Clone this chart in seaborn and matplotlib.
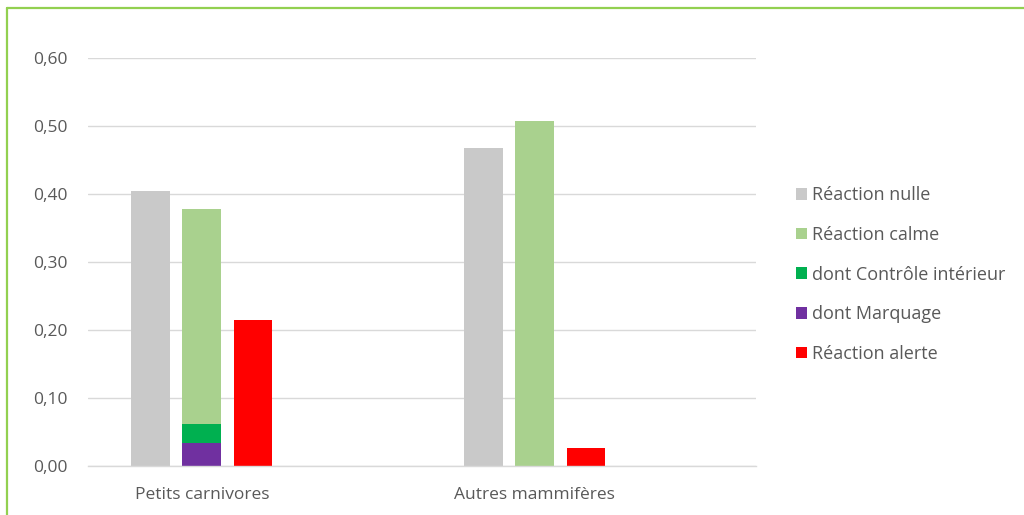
import matplotlib
matplotlib.use("Agg")
import matplotlib.pyplot as plt
from matplotlib.patches import Patch
from matplotlib.lines import Line2D
import seaborn as sns
import pandas as pd

categories = ["Petits carnivores", "Autres mammifères"]
reaction_nulle = [0.404, 0.467]
reaction_calme = [0.378, 0.507]
reaction_alerte = [0.215, 0.026]
dont_marquage = [0.034, 0.0]
dont_controle_interieur = [0.027, 0.0]
yticks = [0.0, 0.1, 0.2, 0.3, 0.4, 0.5, 0.6]
ytick_labels = ["0,00", "0,10", "0,20", "0,30", "0,40", "0,50", "0,60"]

series_names = ["Réaction nulle", "Réaction calme", "dont Contrôle intérieur",
                "dont Marquage", "Réaction alerte"]
colors = {"Réaction nulle": "#c9c9c9", "Réaction calme": "#a9d18e",
          "dont Contrôle intérieur": "#00b050", "dont Marquage": "#7030a0",
          "Réaction alerte": "#ff0000"}

sns.set_theme(style="white")
plt.rcParams["font.family"] = ["Open Sans", "DejaVu Sans"]

main_order = ["Réaction nulle", "Réaction calme", "Réaction alerte"]
rows = []
for name, vals in zip(main_order, [reaction_nulle, reaction_calme, reaction_alerte]):
    for c, v in zip(categories, vals):
        rows.append({"cat": c, "serie": name, "val": v})
df = pd.DataFrame(rows)

fig = plt.figure(figsize=(10.24, 5.15), dpi=100)
ax = fig.add_axes([88 / 1024, 49.3 / 515, (756 - 88) / 1024, (465.7 - 57.7) / 515])

sns.barplot(data=df, x="cat", y="val", hue="serie", hue_order=main_order,
            order=categories, palette=colors, width=0.46, gap=0.24,
            legend=False, ax=ax, linewidth=0, errorbar=None, saturation=1)

bar_w = 0.46 / 3 * (1 - 0.24)
ctrl_top = [m + c for m, c in zip(dont_marquage, dont_controle_interieur)]
sns.barplot(x=categories, y=ctrl_top, order=categories, color=colors["dont Contrôle intérieur"],
            width=bar_w, ax=ax, linewidth=0, errorbar=None, saturation=1)
sns.barplot(x=categories, y=dont_marquage, order=categories, color=colors["dont Marquage"],
            width=bar_w, ax=ax, linewidth=0, errorbar=None, saturation=1)

ax.set_xlim(-0.342, 1.664)
ax.set_ylim(0, 0.6)
ax.set_yticks(yticks)
ax.set_yticklabels(ytick_labels)
ax.set_xlabel("")
ax.set_ylabel("")
ax.yaxis.grid(True, color="#d9d9d9", linewidth=1.0)
ax.set_axisbelow(True)
for s in ["top", "right", "left"]:
    ax.spines[s].set_visible(False)
ax.spines["bottom"].set_color("#d9d9d9")
ax.spines["bottom"].set_linewidth(1.0)
ax.tick_params(axis="y", length=0, pad=15, labelsize=12.5, labelcolor="#595959")
ax.tick_params(axis="x", length=0, pad=15, labelsize=12.5, labelcolor="#595959")

handles = [Patch(facecolor=colors[n], edgecolor="none", label=n) for n in series_names]
leg = fig.legend(handles=handles, loc="upper left", bbox_to_anchor=(780 / 1024, 1 - 170 / 515),
                 frameon=False, handlelength=0.6, handleheight=0.6, handletextpad=0.3,
                 labelspacing=1.2, fontsize=13)
for t in leg.get_texts():
    t.set_color("#595959")

green = "#92d050"
fig.add_artist(Line2D([7 / 1024, 7 / 1024], [0, 1 - 8 / 515], color=green, linewidth=1.6,
                      transform=fig.transFigure))
fig.add_artist(Line2D([7 / 1024, 1], [1 - 8 / 515, 1 - 8 / 515], color=green, linewidth=1.6,
                      transform=fig.transFigure))

fig.savefig("out.png", dpi=100)
